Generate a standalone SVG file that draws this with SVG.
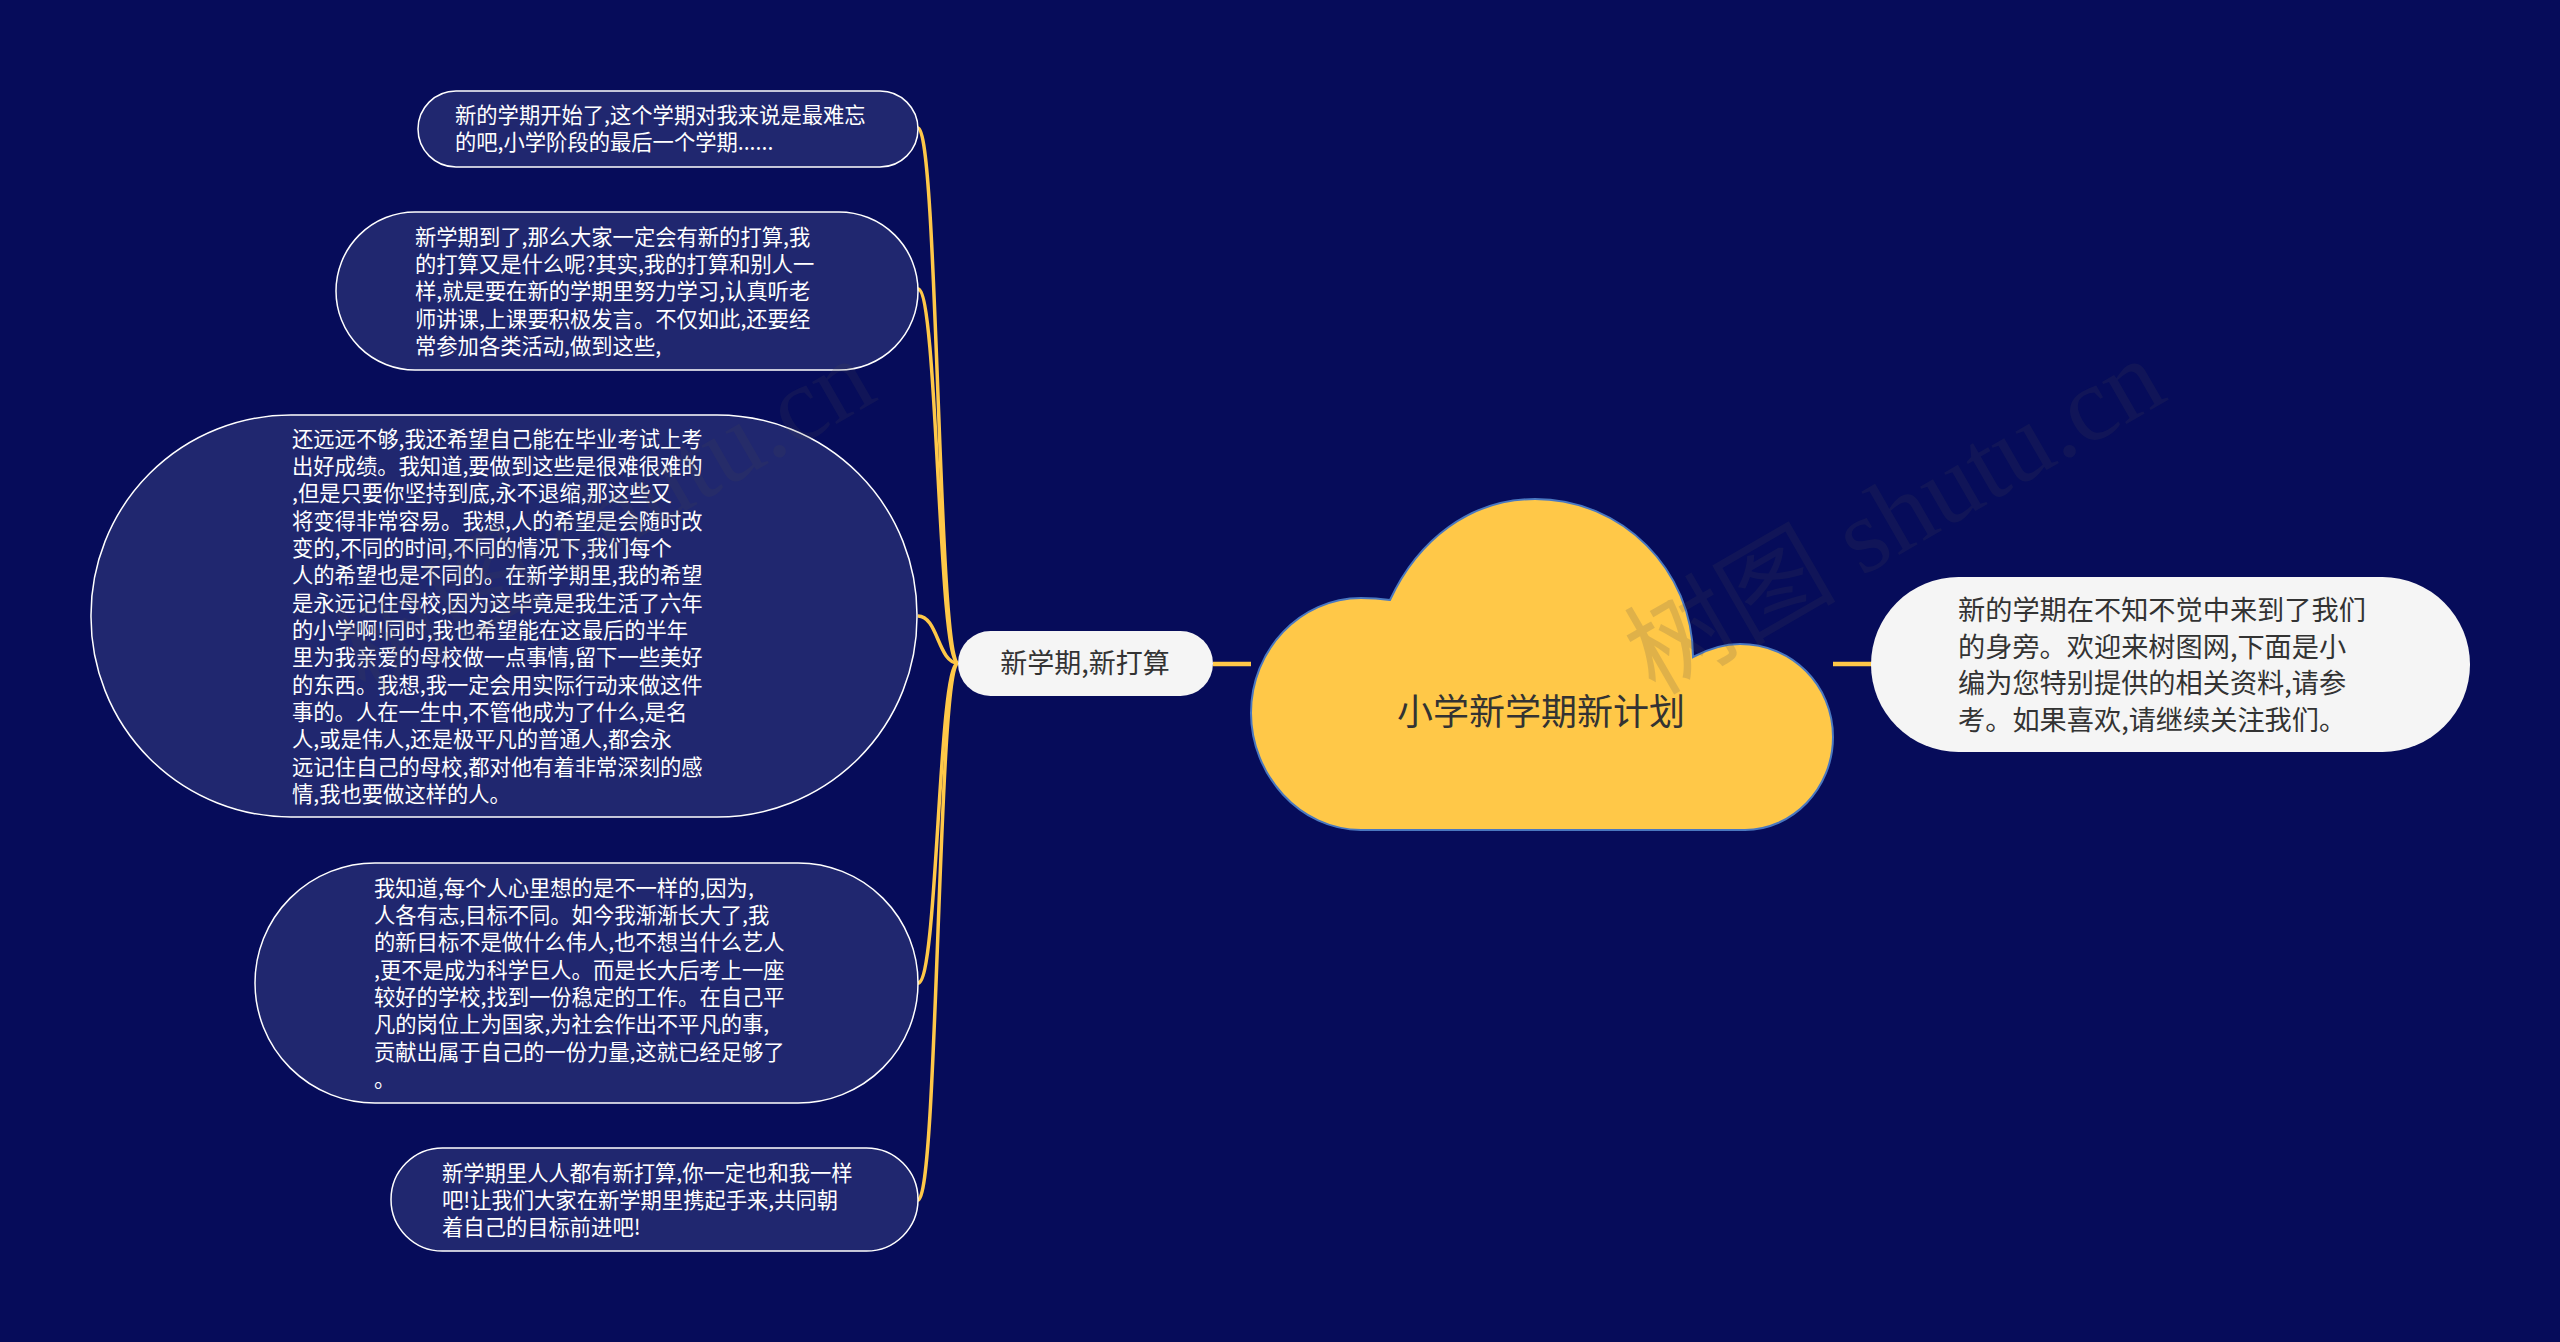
<svg xmlns="http://www.w3.org/2000/svg" width="2560" height="1342" viewBox="0 0 2560 1342">
<style>
text{font-family:"Noto Sans CJK SC","Liberation Sans",sans-serif}
.leaf rect{fill:#20276f;stroke:#fff;stroke-width:1.5}
.leaf text{fill:#fff;font-size:21.3px}
.conn path{fill:none;stroke:#ffc848;stroke-width:3.5}
.conn line{stroke:#ffc848;stroke-width:4.5}
.wm{font-family:"Liberation Serif","Noto Sans CJK SC",serif;font-size:106px;fill:#464650;opacity:.17}
</style>
<rect width="2560" height="1342" fill="#060c5a"/>
<g id="connectors" class="conn">
<line x1="1213" y1="664" x2="1251" y2="664"/>
<line x1="1833" y1="664" x2="1873" y2="664"/>
<path d="M918 128C938 128 938 663 958 663"/>
<path d="M918 289C938 289 938 663 958 663"/>
<path d="M918 616C938 616 938 663 958 663"/>
<path d="M918 983C938 983 938 663 958 663"/>
<path d="M918 1200C938 1200 938 663 958 663"/>
</g>
<g id="root">
<path d="M1361 830C1300 830 1251 775 1251 713C1251 650 1300 598 1361 598Q1376 598 1390 600C1418 540 1470 499 1535 499C1622 499 1693 570 1693 657C1708 649 1724 644 1740 644C1792 644 1833 685 1833 737C1833 789 1792 830 1745 830Z" fill="#ffc848" stroke="#4a78c0" stroke-width="2"/>
<text x="1541" y="725" font-size="36" fill="#333" text-anchor="middle">小学新学期新计划</text>
</g>
<g id="branch">
<rect x="958" y="631" width="255" height="65" rx="32.5" fill="#f5f5f5"/>
<text x="1085" y="673" font-size="27" fill="#333" text-anchor="middle">新学期,新打算</text>
</g>
<g id="intro">
<rect x="1871" y="577" width="599" height="175" rx="87.5" fill="#f5f5f5"/>
<text font-size="27.2" fill="#333"><tspan x="1958" y="620">新的学期在不知不觉中来到了我们</tspan><tspan x="1958" y="657">的身旁。欢迎来树图网,下面是小</tspan><tspan x="1958" y="693">编为您特别提供的相关资料,请参</tspan><tspan x="1958" y="730">考。如果喜欢,请继续关注我们。</tspan></text>
</g>
<g id="leaf1" class="leaf">
<rect x="418" y="91" width="500" height="76" rx="38"/>
<text><tspan x="455" y="122.5">新的学期开始了,这个学期对我来说是最难忘</tspan><tspan x="455" y="150">的吧,小学阶段的最后一个学期......</tspan></text>
</g>
<g id="leaf2" class="leaf">
<rect x="336" y="212" width="582" height="158" rx="79"/>
<text><tspan x="415" y="244.5">新学期到了,那么大家一定会有新的打算,我</tspan><tspan x="415" y="272">的打算又是什么呢?其实,我的打算和别人一</tspan><tspan x="415" y="299">样,就是要在新的学期里努力学习,认真听老</tspan><tspan x="415" y="326.5">师讲课,上课要积极发言。不仅如此,还要经</tspan><tspan x="415" y="354">常参加各类活动,做到这些,</tspan></text>
</g>
<g id="leaf3" class="leaf">
<rect x="91" y="415" width="826" height="402" rx="200"/>
<text><tspan x="292" y="446.5">还远远不够,我还希望自己能在毕业考试上考</tspan><tspan x="292" y="474">出好成绩。我知道,要做到这些是很难很难的</tspan><tspan x="292" y="501">,但是只要你坚持到底,永不退缩,那这些又</tspan><tspan x="292" y="528.5">将变得非常容易。我想,人的希望是会随时改</tspan><tspan x="292" y="556">变的,不同的时间,不同的情况下,我们每个</tspan><tspan x="292" y="583">人的希望也是不同的。在新学期里,我的希望</tspan><tspan x="292" y="610.5">是永远记住母校,因为这毕竟是我生活了六年</tspan><tspan x="292" y="638">的小学啊!同时,我也希望能在这最后的半年</tspan><tspan x="292" y="665">里为我亲爱的母校做一点事情,留下一些美好</tspan><tspan x="292" y="692.5">的东西。我想,我一定会用实际行动来做这件</tspan><tspan x="292" y="720">事的。人在一生中,不管他成为了什么,是名</tspan><tspan x="292" y="747">人,或是伟人,还是极平凡的普通人,都会永</tspan><tspan x="292" y="774.5">远记住自己的母校,都对他有着非常深刻的感</tspan><tspan x="292" y="802">情,我也要做这样的人。</tspan></text>
</g>
<g id="leaf4" class="leaf">
<rect x="255" y="863" width="663" height="240" rx="120"/>
<text><tspan x="374" y="895.5">我知道,每个人心里想的是不一样的,因为,</tspan><tspan x="374" y="923">人各有志,目标不同。如今我渐渐长大了,我</tspan><tspan x="374" y="950">的新目标不是做什么伟人,也不想当什么艺人</tspan><tspan x="374" y="977.5">,更不是成为科学巨人。而是长大后考上一座</tspan><tspan x="374" y="1005">较好的学校,找到一份稳定的工作。在自己平</tspan><tspan x="374" y="1032">凡的岗位上为国家,为社会作出不平凡的事,</tspan><tspan x="374" y="1059.5">贡献出属于自己的一份力量,这就已经足够了</tspan><tspan x="374" y="1087">。</tspan></text>
</g>
<g id="leaf5" class="leaf">
<rect x="391" y="1148" width="527" height="103" rx="51.5"/>
<text><tspan x="442" y="1180.5">新学期里人人都有新打算,你一定也和我一样</tspan><tspan x="442" y="1208">吧!让我们大家在新学期里携起手来,共同朝</tspan><tspan x="442" y="1235">着自己的目标前进吧!</tspan></text>
</g>
<g id="watermarks">
<text transform="translate(1655 696) rotate(-30)" class="wm">树图 shutu.cn</text>
<text transform="translate(365 696) rotate(-30)" class="wm">树图 shutu.cn</text>
</g>
</svg>
